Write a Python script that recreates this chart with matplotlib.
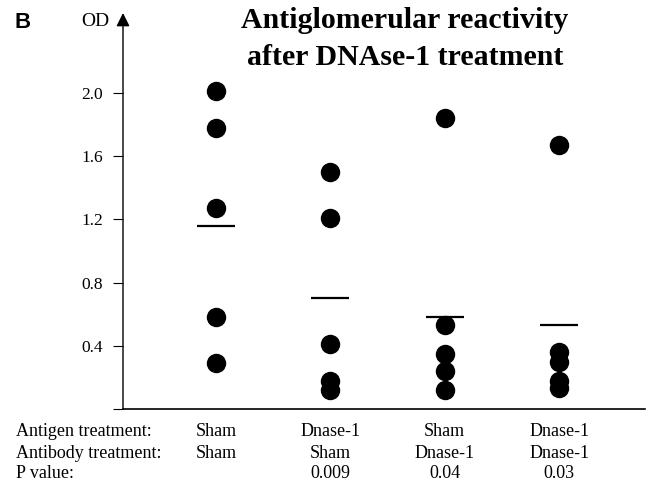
import matplotlib.pyplot as plt
import numpy as np

plt.rcParams['font.family'] = ['Liberation Serif', 'DejaVu Serif']

# OD values per group
od_sham_sham = [2.01, 1.78, 1.27, 0.58, 0.29]
od_dnase_sham = [1.50, 1.21, 0.41, 0.18, 0.12]
od_sham_dnase = [1.84, 0.53, 0.35, 0.24, 0.12]
od_dnase_dnase = [1.67, 0.36, 0.30, 0.18, 0.13]
group_means = [1.16, 0.70, 0.58, 0.53]

antigen = ['Sham', 'Dnase-1', 'Sham', 'Dnase-1']
antibody = ['Sham', 'Sham', 'Dnase-1', 'Dnase-1']
p_values = ['', '0.009', '0.04', '0.03']
row_names = ['Antigen treatment:', 'Antibody treatment:', 'P value:']

yticks = [0, 0.4, 0.8, 1.2, 1.6, 2.0]
ytick_labels = ['', '0.4', '0.8', '1.2', '1.6', '2.0']

groups = [od_sham_sham, od_dnase_sham, od_sham_dnase, od_dnase_dnase]
pos = np.arange(1, len(groups) + 1)

fig = plt.figure(figsize=(6.49, 4.83), dpi=100)
ax = fig.add_axes([123/649, 74/483, (645-123)/649, (470-74)/483])

for x, vals in zip(pos, groups):
    ax.plot([x]*len(vals), vals, 'o', color='black', ms=14, mew=0)
ax.hlines(group_means, pos-0.165, pos+0.165, color='black', lw=1.6)

ax.set_xlim(0.188, 4.751)
ax.set_ylim(0, 2.505)
ax.set_xticks([])
ax.set_yticks(yticks)
ax.set_yticklabels(ytick_labels, fontsize=12.5)
ax.tick_params(axis='y', direction='out', length=7.5, width=0.8, pad=7)
for s in ['top', 'right', 'left']:
    ax.spines[s].set_visible(False)
ax.spines['bottom'].set_linewidth(1.2)

# y axis with arrow head
ax.annotate('', xy=(0, 1.0), xytext=(0, 0), xycoords='axes fraction',
            arrowprops=dict(arrowstyle='-|>', color='black', lw=1.0,
                            mutation_scale=20, shrinkA=0, shrinkB=0))

fig.text(14/649, 1 - 22/483, 'B', fontsize=16, fontweight='bold',
         family='Liberation Sans', va='center', ha='left')
fig.text(109/649, 1 - 21/483, 'OD', fontsize=14, va='center', ha='right')
fig.text(405/649, 1 - 39/483,
         'Antiglomerular reactivity\nafter DNAse-1 treatment',
         fontsize=21.5, fontweight='bold', ha='center', va='center',
         linespacing=1.45)

# table under the axis
row_y = [432, 453, 473]
rows = [antigen, antibody, p_values]
for name, y, vals in zip(row_names, row_y, rows):
    fig.text(16/649, 1 - y/483, name, fontsize=13, va='center', ha='left')
    for x, v in zip(pos, vals):
        xf = ax.transData.transform((x, 0))[0] / fig.bbox.width
        fig.text(xf, 1 - y/483, v, fontsize=13, va='center', ha='center')

plt.savefig('out.png', dpi=100)
